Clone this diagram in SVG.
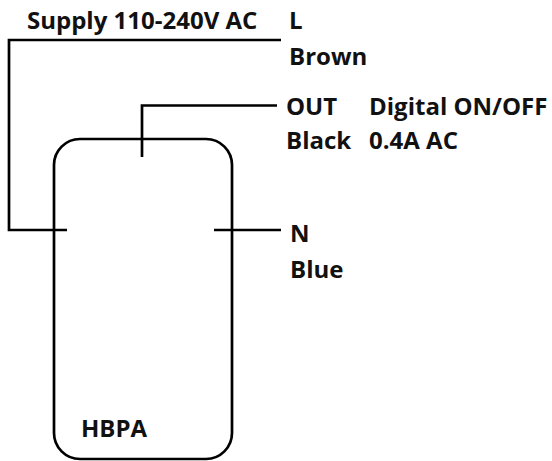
<svg xmlns="http://www.w3.org/2000/svg" width="552" height="461" viewBox="0 0 552 461">
<style>
.t{font-family:"Open Sans","Liberation Sans",sans-serif;font-weight:bold;font-size:24px;fill:#111}
.w{fill:none;stroke:#000;stroke-width:2.7}
</style>
<rect width="552" height="461" fill="#fff"/>
<g id="hbpa">
<rect class="w" x="54" y="139" width="178" height="320" rx="26" ry="26"/>
<text class="t" x="81" y="437">HBPA</text>
</g>
<g id="connectors">
<path class="w" d="M281,40 H9 V230 H67"/>
<path class="w" d="M277,105.5 H142 V157"/>
<path class="w" d="M214,230 H281"/>
</g>
<g id="labels">
<text class="t" x="27" y="29">Supply 110-240V AC</text>
<text class="t" x="289" y="29">L</text>
<text class="t" x="289" y="65">Brown</text>
<text class="t" x="286" y="115">OUT</text>
<text class="t" x="286" y="149">Black</text>
<text class="t" x="369" y="115">Digital ON/OFF</text>
<text class="t" x="369" y="149">0.4A AC</text>
<text class="t" x="290" y="242">N</text>
<text class="t" x="290" y="278">Blue</text>
</g>
</svg>
